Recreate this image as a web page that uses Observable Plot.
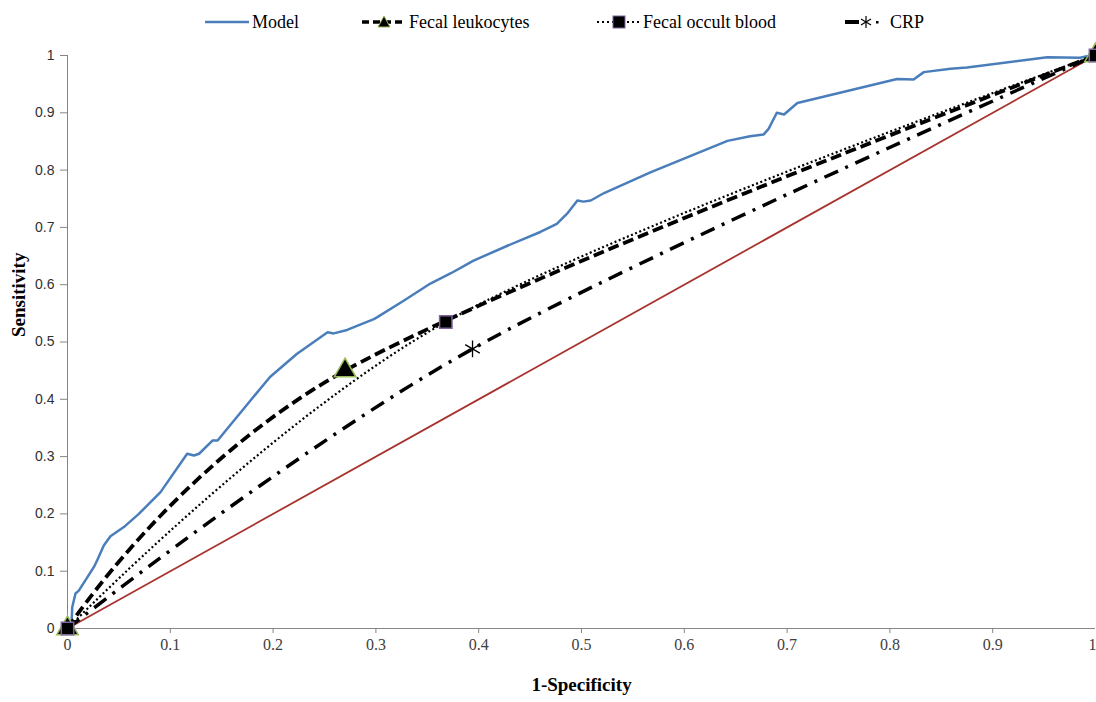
<!DOCTYPE html>
<html><head><meta charset="utf-8">
<script src="https://cdn.jsdelivr.net/npm/d3@7"></script>
<script src="https://cdn.jsdelivr.net/npm/@observablehq/plot@0.6"></script>
<style>
body{margin:0;background:#fff;width:1096px;height:702px;overflow:hidden;}
#legend{position:relative;height:40px;font-family:"Liberation Serif",serif;font-size:18px;color:#000;}
#legend .sw{position:absolute;top:12px;height:20px;}
#legend .lb{position:absolute;top:12px;height:20px;line-height:20px;white-space:nowrap;}
</style></head><body>
<div id="legend"></div>
<div id="chart"></div>
<script>
// Model ROC curve points (1-Specificity, Sensitivity)
const modelX = [0, 0.004, 0.0046, 0.0078, 0.011, 0.0256, 0.0289, 0.0353, 0.0418, 0.0548, 0.0694, 0.0905, 0.1164, 0.123, 0.128, 0.141, 0.146, 0.162, 0.178, 0.197, 0.223, 0.253, 0.259, 0.272, 0.298, 0.301, 0.327, 0.353, 0.373, 0.395, 0.428, 0.460, 0.476, 0.486, 0.496, 0.502, 0.509, 0.522, 0.567, 0.642, 0.664, 0.677, 0.682, 0.690, 0.697, 0.710, 0.807, 0.823, 0.833, 0.859, 0.875, 0.953, 0.985, 0.995, 1];
const modelY = [0, 0.012, 0.037, 0.061, 0.066, 0.107, 0.119, 0.145, 0.161, 0.177, 0.200, 0.238, 0.305, 0.302, 0.305, 0.328, 0.328, 0.363, 0.398, 0.439, 0.479, 0.517, 0.515, 0.521, 0.540, 0.543, 0.572, 0.602, 0.620, 0.642, 0.668, 0.692, 0.706, 0.724, 0.747, 0.745, 0.747, 0.760, 0.796, 0.851, 0.859, 0.862, 0.872, 0.900, 0.897, 0.917, 0.959, 0.958, 0.971, 0.977, 0.979, 0.997, 0.996, 1.0, 1];
// Single-test ROC points
const leukX = [0, 0.27, 1];
const leukY = [0, 0.45, 1];
const fobX = [0, 0.368, 1];
const fobY = [0, 0.535, 1];
const crpX = [0, 0.394, 1];
const crpY = [0, 0.488, 1];
const crpPointX = [0.394];
const crpPointY = [0.488];
// Reference diagonal
const refX = [0, 1];
const refY = [0, 1];
// Ticks
const xTicks = [0, 0.1, 0.2, 0.3, 0.4, 0.5, 0.6, 0.7, 0.8, 0.9];
const xLastTick = [1];
const yTicks = [0, 0.1, 0.2, 0.3, 0.4, 0.5, 0.6, 0.7, 0.8, 0.9, 1];
const seriesNames = ["Model", "Fecal leukocytes", "Fecal occult blood", "CRP"];
const xLabel = "1-Specificity";
const yLabel = "Sensitivity";

const fmt = d => d3.format("~g")(d);

// Legend (HTML)
const legend = document.getElementById("legend");
const legendItems = [
  {name: seriesNames[0], sw: 205, lb: 252, svg: `<svg width="44" height="20"><line x1="0" y1="10" x2="44" y2="10" stroke="#4A7EBB" stroke-width="2.5"/></svg>`},
  {name: seriesNames[1], sw: 362, lb: 409, svg: `<svg width="44" height="20"><line x1="0" y1="10" x2="44" y2="10" stroke="#000" stroke-width="3.5" stroke-dasharray="7,4"/><path d="M22,4 L28,15 L16,15 Z" fill="#000" stroke="#9BBB59" stroke-width="1"/></svg>`},
  {name: seriesNames[2], sw: 597, lb: 643, svg: `<svg width="44" height="20"><line x1="0" y1="10" x2="44" y2="10" stroke="#000" stroke-width="2.2" stroke-dasharray="2,3"/><rect x="16" y="4" width="12" height="12" fill="#000" stroke="#8064A2" stroke-width="1"/></svg>`},
  {name: seriesNames[3], sw: 845, lb: 890, svg: `<svg width="44" height="20"><line x1="0" y1="10" x2="14" y2="10" stroke="#000" stroke-width="4"/><g stroke="#000" stroke-width="1.2"><line x1="21" y1="4" x2="21" y2="16"/><line x1="16" y1="7" x2="26" y2="13"/><line x1="16" y1="13" x2="26" y2="7"/></g><rect x="31" y="9" width="2.5" height="2.5" fill="#000"/></svg>`}
];
legendItems.forEach(it => {
  const s = document.createElement("div");
  s.className = "sw"; s.style.left = it.sw + "px"; s.innerHTML = it.svg;
  legend.appendChild(s);
  const t = document.createElement("div");
  t.className = "lb"; t.style.left = it.lb + "px"; t.textContent = it.name;
  legend.appendChild(t);
});

const xAxisStyle = {tickFormat: fmt, tickSize: 5, tickPadding: 5, stroke: "#868686", fill: "#404040", fontFamily: "Liberation Serif", fontSize: 16, label: null};

const chart = Plot.plot({
  width: 1096,
  height: 662,
  marginLeft: 67,
  marginRight: 1,
  marginTop: 15,
  marginBottom: 74,
  x: {domain: [0, 1]},
  y: {domain: [0, 1]},
  style: {background: "#fff", overflow: "visible"},
  marks: [
    Plot.axisX({ticks: xTicks, ...xAxisStyle}),
    Plot.axisX({ticks: xLastTick, ...xAxisStyle, textAnchor: "end", dx: 1}),
    Plot.axisY({ticks: yTicks, tickFormat: fmt, tickSize: 7, tickPadding: 6, stroke: "#868686", fill: "#303030", fontFamily: "Liberation Sans", fontSize: 14, label: null}),
    Plot.ruleY([0], {stroke: "#868686", strokeWidth: 1}),
    Plot.ruleX([0], {stroke: "#868686", strokeWidth: 1}),
    Plot.line(refX, {x: refX, y: refY, stroke: "#A8342F", strokeWidth: 1.8}),
    Plot.line(modelX, {x: modelX, y: modelY, stroke: "#4A7EBB", strokeWidth: 2.5}),
    Plot.line(crpX, {x: crpX, y: crpY, curve: "cardinal", stroke: "#000", strokeWidth: 3.5, strokeDasharray: "15,8,3,8", strokeLinecap: "butt"}),
    Plot.line(fobX, {x: fobX, y: fobY, curve: "cardinal", stroke: "#000", strokeWidth: 2.2, strokeDasharray: "2,2.5", strokeLinecap: "butt"}),
    Plot.line(leukX, {x: leukX, y: leukY, curve: "cardinal", stroke: "#000", strokeWidth: 3.8, strokeDasharray: "11,5", strokeLinecap: "butt"}),
    Plot.dot(crpPointX, {x: crpPointX, y: crpPointY, symbol: "asterisk", stroke: "#000", strokeWidth: 1.3, r: 8}),
    Plot.dot(leukX, {x: leukX, y: leukY, symbol: "triangle", fill: "#000", stroke: "#9BBB59", strokeWidth: 1.5, r: 8}),
    Plot.dot(fobX, {x: fobX, y: fobY, symbol: "square", fill: "#000", stroke: "#8064A2", strokeWidth: 1.5, r: 7}),
    Plot.text([xLabel], {frameAnchor: "bottom", dy: 62, text: d => d, fontFamily: "Liberation Serif", fontWeight: "bold", fontSize: 19, fill: "#000"}),
    Plot.text([yLabel], {frameAnchor: "left", dx: -49, dy: -5, rotate: -90, text: d => d, fontFamily: "Liberation Serif", fontWeight: "bold", fontSize: 19, fill: "#000"})
  ]
});
document.getElementById("chart").appendChild(chart);
</script>
</body></html>
